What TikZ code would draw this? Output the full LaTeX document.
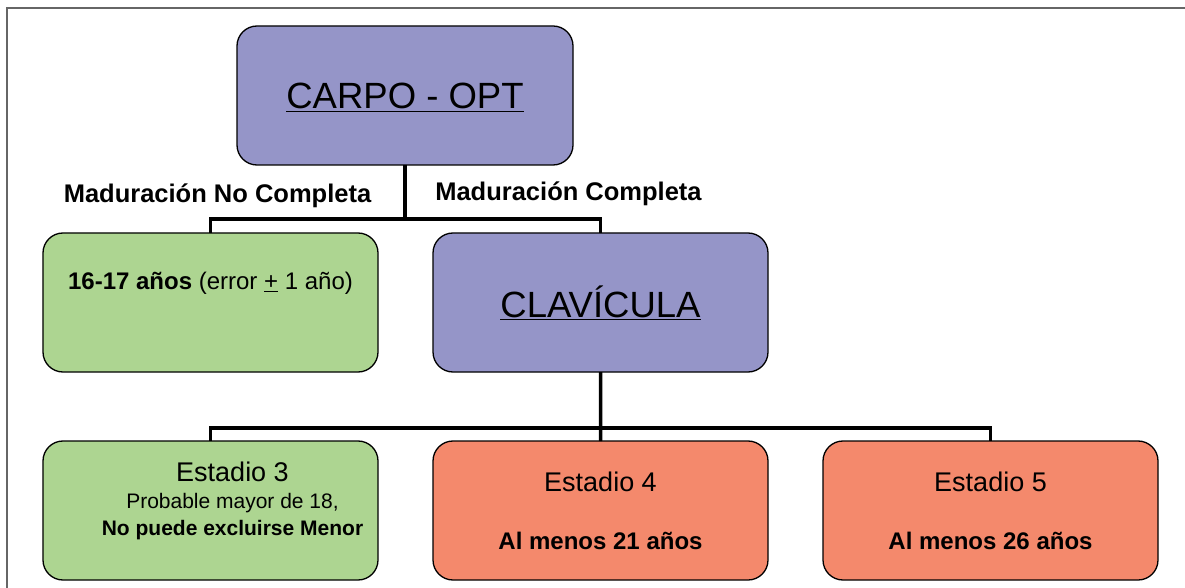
\documentclass[tikz,border=0pt]{standalone}
\usepackage{fontspec}
\setmainfont{Liberation Sans}
\usetikzlibrary{positioning}
\definecolor{boxpurple}{RGB}{149,149,200}
\definecolor{boxgreen}{RGB}{173,213,145}
\definecolor{boxsalmon}{RGB}{244,137,108}
\tikzset{
	every picture/.style={x=1bp, y=-1bp},
	box/.style={draw, rectangle, rounded corners=20bp, line width=1.3bp, minimum width=335bp, minimum height=139bp, inner sep=0pt, outer sep=0pt},
	conn/.style={line width=3.5bp},
	frame/.style={draw=black!60, line width=2bp},
	txt/.style={anchor=base, inner sep=0pt},
}
\newcommand{\titlesz}{\fontsize{36.5bp}{40bp}\selectfont}
\newcommand{\stagesz}{\fontsize{27bp}{30bp}\selectfont}
\newcommand{\labelsz}{\fontsize{25.5bp}{28bp}\selectfont\bfseries}
\newcommand{\agesz}{\fontsize{24bp}{27bp}\selectfont}
\newcommand{\notesz}{\fontsize{21bp}{24bp}\selectfont}

\begin{document}
\begin{tikzpicture}
	\useasboundingbox (0,0) rectangle (1185,588);
	\draw[frame] (7,588) -- (7,8) -- (1185,8);

	% boxes
	\node[box, fill=boxpurple, minimum width=336bp] (carpo) at (405,95.5) {};
	\node[box, fill=boxgreen] (young) at (210.5,302.5) {};
	\node[box, fill=boxpurple, right=55bp of young] (clav) {};
	\node[box, fill=boxgreen] (stage3) at (210.5,510.5) {};
	\node[box, fill=boxsalmon, right=55bp of stage3] (stage4) {};
	\node[box, fill=boxsalmon, right=55bp of stage4] (stage5) {};

	% texts
	\node[txt, font=\titlesz] (carpotxt) at ([yshift=-83bp]carpo.north) {\underline{CARPO - OPT}};
	\node[txt, font=\agesz] (youngtxt) at ([yshift=-57bp]young.north) {\textbf{16-17 años} (error \underline{+} 1 año)};
	\node[txt, font=\titlesz] (clavtxt) at ([yshift=-84bp]clav.north) {\underline{CLAVÍCULA}};
	\node[txt, font=\stagesz] (s3a) at ([xshift=22bp, yshift=-40bp]stage3.north) {Estadio 3};
	\node[txt, font=\notesz] (s3b) at ([xshift=22bp, yshift=-67bp]stage3.north) {Probable mayor de 18,};
	\node[txt, font=\notesz\bfseries] (s3c) at ([xshift=22bp, yshift=-94bp]stage3.north) {No puede excluirse Menor};
	\node[txt, font=\stagesz] (s4a) at ([yshift=-50bp]stage4.north) {Estadio 4};
	\node[txt, font=\agesz\bfseries] (s4b) at ([yshift=-108bp]stage4.north) {Al menos 21 años};
	\node[txt, font=\stagesz] (s5a) at ([yshift=-50bp]stage5.north) {Estadio 5};
	\node[txt, font=\agesz\bfseries] (s5b) at ([yshift=-108bp]stage5.north) {Al menos 26 años};

	% branch labels
	\node[txt, font=\labelsz] (nolbl) at (217.5,203) {Maduración No Completa};
	\node[txt, font=\labelsz] (yeslbl) at (568.5,201) {Maduración Completa};

	% connectors
	\coordinate (fork1) at (405,219);
	\coordinate (fork2) at (600.5,428);
	\draw[conn] (carpo.south) -- (fork1);
	\draw[conn] (young.north) |- (fork1) -| (clav.north);
	\draw[conn] (clav.south) -- (fork2);
	\draw[conn] (stage3.north) |- (fork2) -| (stage5.north);
	\draw[conn] (fork2) -- (stage4.north);
\end{tikzpicture}
\end{document}
